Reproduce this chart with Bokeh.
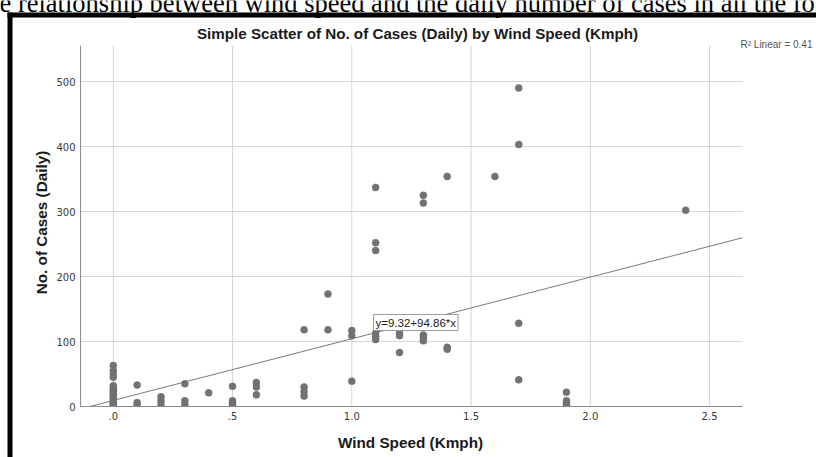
import math
from bokeh.plotting import figure
from bokeh.models import FixedTicker, Label, BoxAnnotation, Range1d, ColumnDataSource, LinearAxis
from bokeh.embed import file_html
from bokeh.resources import INLINE

# ---- data ----
wind_speed = (
    [0.0] * 17 + [0.1] * 3 + [0.2] * 3 + [0.3] * 3 + [0.4] + [0.5] * 4 + [0.6] * 3
    + [0.8] * 4 + [0.9] * 2 + [1.0] * 3 + [1.1] * 6 + [1.2] * 3 + [1.3] * 5
    + [1.4] * 3 + [1.6] + [1.7] * 4 + [1.9] * 4 + [2.4]
)
daily_cases = (
    [63, 55, 50, 45, 32, 29, 26, 23, 20, 17, 14, 11, 8, 6, 4, 2, 0]
    + [33, 6, 2]
    + [15, 9, 3]
    + [35, 9, 3]
    + [21]
    + [31, 9, 5, 2]
    + [37, 30, 18]
    + [118, 30, 23, 16]
    + [173, 118]
    + [117, 109, 39]
    + [337, 252, 240, 113, 108, 103]
    + [113, 109, 83]
    + [325, 313, 110, 106, 101]
    + [354, 91, 88]
    + [354]
    + [490, 403, 128, 41]
    + [22, 9, 5, 2]
    + [302]
)
fit_intercept = 9.32
fit_slope = 94.86
r_squared = 0.41

x_ticks = [0.0, 0.5, 1.0, 1.5, 2.0, 2.5]
x_tick_labels = [".0", ".5", "1.0", "1.5", "2.0", "2.5"]
y_ticks = [0, 100, 200, 300, 400, 500]

caption_text = "e relationship between wind speed and the daily number of cases in all the fo"
title_text = "Simple Scatter of No. of Cases (Daily) by Wind Speed (Kmph)"
x_title = "Wind Speed (Kmph)"
y_title = "No. of Cases (Daily)"

# ---- geometry ----
W, H = 816, 457
X_START, X_END = -0.47296, 2.94843      # whole canvas in data units
Y_START, Y_END = -78.46, 624.62
X_LEFT, X_RIGHT = -0.13753, 2.63816     # plot area
Y_TOP = 555.38


def px_x(px):
    return X_START + px * (X_END - X_START) / W


def px_y(py):
    return Y_END - py * (Y_END - Y_START) / H


p = figure(width=W, height=H, output_backend="svg", toolbar_location=None,
           x_range=Range1d(X_START, X_END), y_range=Range1d(Y_START, Y_END),
           x_axis_type=None, y_axis_type=None, min_border=0,
           background_fill_color="white", border_fill_color="white")
p.outline_line_color = None

GRID = "#d6d6d6"
AXIS = "#8c8c8c"

# grid lines inside the plot area
p.segment(x0=x_ticks, y0=[0] * len(x_ticks), x1=x_ticks, y1=[Y_TOP] * len(x_ticks),
          line_color=GRID, line_width=1)
p.segment(x0=[X_LEFT] * len(y_ticks), y0=y_ticks, x1=[X_RIGHT] * len(y_ticks), y1=y_ticks,
          line_color=GRID, line_width=1)

# regression line clipped to the plot area
x_a = max(X_LEFT, -fit_intercept / fit_slope)
fit_x = [x_a, X_RIGHT]
fit_y = [fit_intercept + fit_slope * v for v in fit_x]
p.line(fit_x, fit_y, line_color="#7a7a7a", line_width=1)

src = ColumnDataSource(data=dict(x=wind_speed, y=daily_cases))
p.scatter("x", "y", source=src, size=7, fill_color="#727272", line_color="#6a6a6a", line_width=0.5)

# white mask below the x axis (points are clipped at the axis in the original)
p.quad(left=[X_LEFT], right=[X_RIGHT], bottom=[Y_START], top=[0],
       fill_color="white", line_color=None)

# axes
xaxis = LinearAxis(fixed_location=0, bounds=(X_LEFT, X_RIGHT), ticker=FixedTicker(ticks=x_ticks))
xaxis.major_label_overrides = {t: l for t, l in zip(x_ticks, x_tick_labels)}
yaxis = LinearAxis(fixed_location=X_LEFT, bounds=(0, Y_TOP), ticker=FixedTicker(ticks=y_ticks))
for ax in (xaxis, yaxis):
    ax.axis_line_color = AXIS
    ax.axis_line_width = 1
    ax.major_tick_in = 0
    ax.major_tick_out = 0
    ax.minor_tick_in = 0
    ax.minor_tick_out = 0
    ax.major_label_text_font = "DejaVu Sans"
    ax.major_label_text_font_size = "10px"
    ax.major_label_text_color = "#3a3a3a"
    ax.major_label_standoff = 5
p.add_layout(xaxis, "below")
p.add_layout(yaxis, "left")

# texts
p.add_layout(Label(x=px_x(-1), y=px_y(2), text=caption_text, text_font="Liberation Serif",
                   text_font_size="26.5px", text_color="black", text_align="left",
                   text_baseline="alphabetic"))
p.add_layout(Label(x=px_x(417), y=px_y(33), text=title_text, text_font="Liberation Sans",
                   text_font_size="15.2px", text_font_style="bold", text_color="#1a1a1a",
                   text_align="center", text_baseline="middle"))
p.add_layout(Label(x=px_x(410), y=px_y(442), text=x_title, text_font="Liberation Sans",
                   text_font_size="15.3px", text_font_style="bold", text_color="#1a1a1a",
                   text_align="center", text_baseline="middle"))
p.add_layout(Label(x=px_x(41), y=px_y(222), text=y_title, text_font="Liberation Sans",
                   text_font_size="15.3px", text_font_style="bold", text_color="#1a1a1a",
                   text_align="center", text_baseline="middle", angle=math.pi / 2))
p.add_layout(Label(x=px_x(740), y=px_y(44), text=f"R² Linear = {r_squared:.2f}",
                   text_font="Liberation Sans", text_font_size="10px", text_color="#555555",
                   text_align="left", text_baseline="middle"))
p.add_layout(Label(x=px_x(373), y=px_y(314), text=f"y={fit_intercept:.2f}+{fit_slope:.2f}*x",
                   text_font="Liberation Sans", text_font_size="11.5px", text_color="#1a1a1a",
                   text_align="left", text_baseline="top", padding=2,
                   background_fill_color="white", border_line_color="#9a9a9a", border_line_width=1))

# black border of the pasted chart (top and left bars)
p.add_layout(BoxAnnotation(left=px_x(7), right=px_x(W), top=px_y(12), bottom=px_y(17),
                           fill_color="black", fill_alpha=1, line_color=None))
p.add_layout(BoxAnnotation(left=px_x(7), right=px_x(12), top=px_y(12), bottom=px_y(H),
                           fill_color="black", fill_alpha=1, line_color=None))

open("out.html", "w").write(file_html(p, INLINE))
